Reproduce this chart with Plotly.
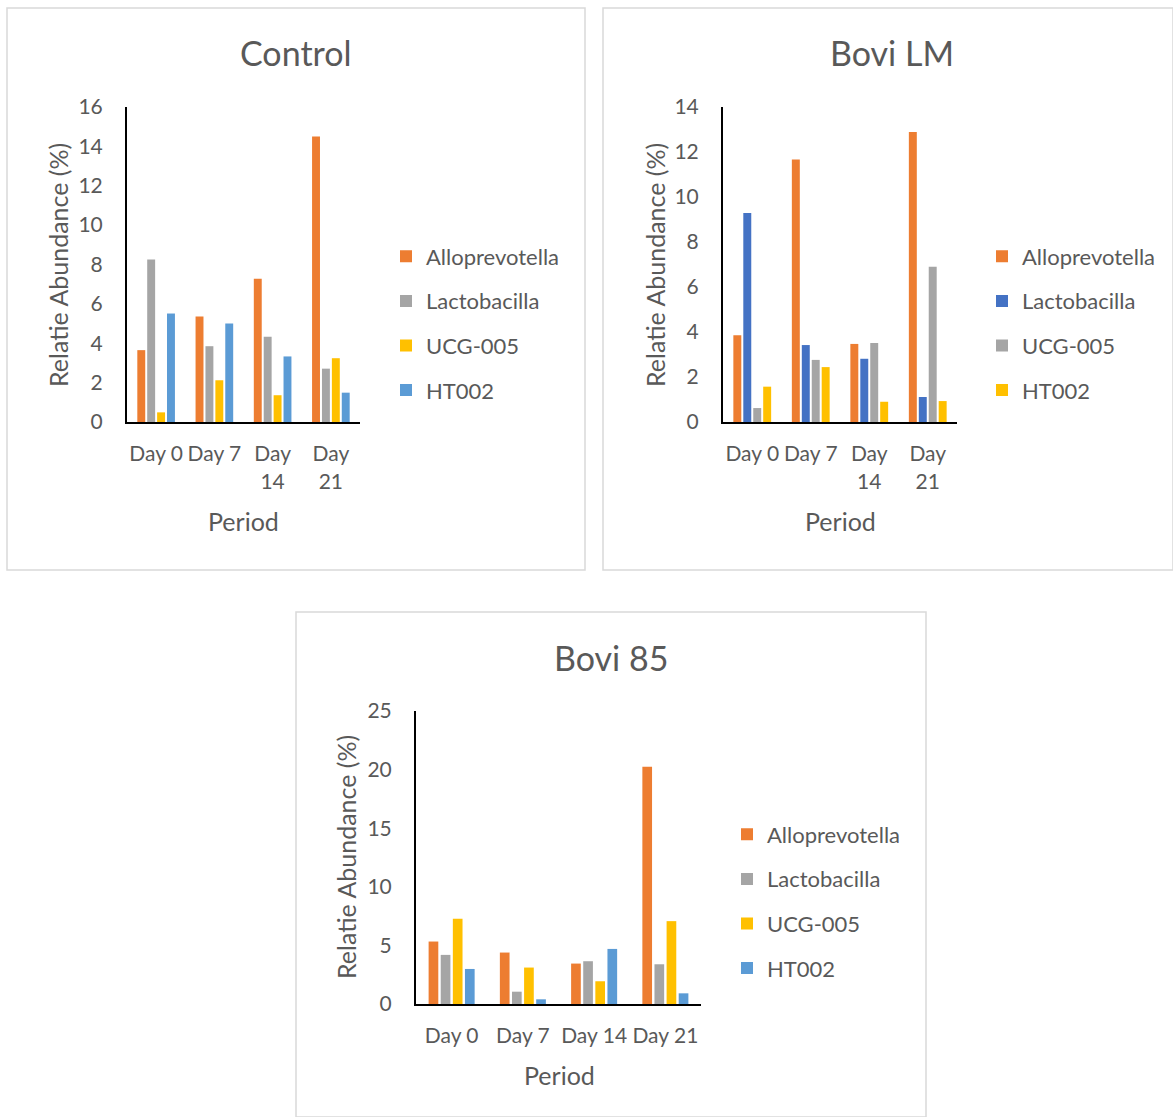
import plotly.graph_objects as go

days = ["Day 0", "Day 7", "Day 14", "Day 21"]
tick_wrapped = ["Day 0", "Day 7", "Day<br>14", "Day<br>21"]
tick_plain = ["Day 0", "Day 7", "Day 14", "Day 21"]

# Control
ctrl_allo = [3.65, 5.36, 7.28, 14.5]
ctrl_lacto = [8.26, 3.85, 4.33, 2.71]
ctrl_ucg = [0.49, 2.12, 1.36, 3.24]
ctrl_ht = [5.51, 5.0, 3.33, 1.49]

# Bovi LM
lm_allo = [3.85, 11.67, 3.47, 12.89]
lm_lacto = [9.29, 3.42, 2.81, 1.11]
lm_ucg = [0.62, 2.76, 3.51, 6.90]
lm_ht = [1.57, 2.44, 0.90, 0.93]

# Bovi 85
b85_allo = [5.33, 4.39, 3.45, 20.24]
b85_lacto = [4.19, 1.05, 3.65, 3.39]
b85_ucg = [7.27, 3.11, 1.94, 7.07]
b85_ht = [2.99, 0.40, 4.70, 0.91]

ORANGE = "#ED7D31"
GRAY = "#A5A5A5"
YELLOW = "#FFC000"
LBLUE = "#5B9BD5"
DBLUE = "#4472C4"
TXT = "#595959"
FONT = "Lato"

W, H = 1173, 1117

def fx(px):
    return px / W

def fy(py):
    return 1 - py / H

fig = go.Figure()

panels = [
    dict(ax="", leg="legend", series=[("Alloprevotella", ctrl_allo, ORANGE), ("Lactobacilla", ctrl_lacto, GRAY),
                                      ("UCG-005", ctrl_ucg, YELLOW), ("HT002", ctrl_ht, LBLUE)]),
    dict(ax="2", leg="legend2", series=[("Alloprevotella", lm_allo, ORANGE), ("Lactobacilla", lm_lacto, DBLUE),
                                        ("UCG-005", lm_ucg, GRAY), ("HT002", lm_ht, YELLOW)]),
    dict(ax="3", leg="legend3", series=[("Alloprevotella", b85_allo, ORANGE), ("Lactobacilla", b85_lacto, GRAY),
                                        ("UCG-005", b85_ucg, YELLOW), ("HT002", b85_ht, LBLUE)]),
]

for p in panels:
    for i, (name, vals, col) in enumerate(p["series"]):
        fig.add_trace(go.Bar(
            x=days, y=vals, name=name, marker=dict(color=col, line=dict(width=0)),
            xaxis="x" + p["ax"], yaxis="y" + p["ax"], legend=p["leg"],
            legendgroup=p["leg"] + str(i), hoverinfo="x+y+name",
        ))

axis_common = dict(showgrid=False, zeroline=False, ticks="", showline=True, linecolor="black", linewidth=2,
                   tickfont=dict(family=FONT, size=21, color=TXT), fixedrange=True, automargin=False)

# pixel geometry of each plot area: (x0, x1, ytop, ybottom)
geo = [(127, 360, 107, 422), (723, 957, 107, 422), (416, 701, 711, 1004)]
yranges = [(16, 2), (14, 2), (25, 5)]
ticks = [tick_wrapped, tick_wrapped, tick_plain]

layout = dict(
    width=W, height=H, margin=dict(l=0, r=0, t=0, b=0, autoexpand=False),
    paper_bgcolor="white", plot_bgcolor="white",
    barmode="group", bargap=0.32, bargroupgap=0.2,
    showlegend=True, font=dict(family=FONT, color=TXT),
)

for k, (g, yr, tt) in enumerate(zip(geo, yranges, ticks)):
    suf = "" if k == 0 else str(k + 1)
    layout["xaxis" + suf] = dict(axis_common, domain=[fx(g[0]), fx(g[1])], anchor="y" + suf,
                                 type="category", categoryorder="array", categoryarray=days,
                                 tickvals=days, ticktext=tt, ticklabelstandoff=12)
    layout["yaxis" + suf] = dict(axis_common, domain=[fy(g[3]), fy(g[2])], anchor="x" + suf,
                                 range=[0, yr[0]], dtick=yr[1], tick0=0, ticklabelstandoff=18)

leg_pos = [(386, 323.5), (982, 323.5), (727, 901.5)]
for k, (lx, ly) in enumerate(leg_pos):
    name = "legend" if k == 0 else "legend" + str(k + 1)
    layout[name] = dict(x=fx(lx), y=fy(ly), xanchor="left", yanchor="middle",
                        font=dict(family=FONT, size=22, color=TXT), tracegroupgap=13,
                        bgcolor="rgba(0,0,0,0)", itemclick=False, itemdoubleclick=False)

fig.update_layout(**layout)

# panel frames
frames = [(7, 8, 585, 570), (603, 8, 1173, 570), (296, 612, 926, 1117)]
for x0, y0, x1, y1 in frames:
    fig.add_shape(type="rect", xref="paper", yref="paper", x0=fx(x0), x1=fx(x1), y0=fy(y1), y1=fy(y0),
                  line=dict(color="#D9D9D9", width=1.5), layer="below")

titles = [("Control", 296, 52), ("Bovi LM", 892, 52), ("Bovi 85", 611, 657)]
for t, x, y in titles:
    fig.add_annotation(text=t, x=fx(x), y=fy(y), xref="paper", yref="paper", showarrow=False,
                       xanchor="center", yanchor="middle", font=dict(family=FONT, size=34, color=TXT))

periods = [(243, 521), (840, 521), (559, 1075)]
for x, y in periods:
    fig.add_annotation(text="Period", x=fx(x), y=fy(y), xref="paper", yref="paper", showarrow=False,
                       xanchor="center", yanchor="middle", font=dict(family=FONT, size=25, color=TXT))

ytitles = [(58, 265), (655, 265), (346, 857)]
for x, y in ytitles:
    fig.add_annotation(text="Relatie Abundance (%)", x=fx(x), y=fy(y), xref="paper", yref="paper",
                       showarrow=False, textangle=-90, xanchor="center", yanchor="middle",
                       font=dict(family=FONT, size=25, color=TXT))

fig.write_html("out.html")
